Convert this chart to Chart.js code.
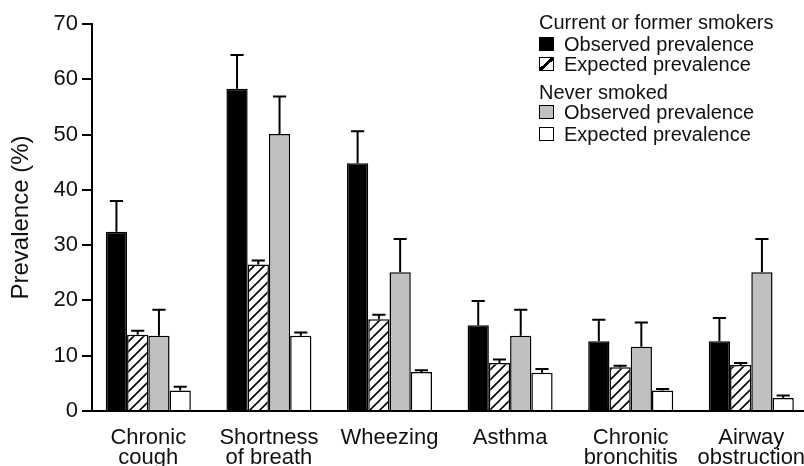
<!DOCTYPE html>
<html>
<head>
<meta charset="utf-8">
<script src="https://cdn.jsdelivr.net/npm/chart.js@4.4.1/dist/chart.umd.min.js"></script>
<style>
  html, body { margin: 0; padding: 0; background: #fff; overflow: hidden; }
  #wrap { position: relative; width: 804px; height: 466px; }
  canvas { position: absolute; left: 0; top: 0; }
  .lg { position: absolute; left: 539px; font-family: "Liberation Sans", Arial, sans-serif; font-size: 20px; line-height: 20px; color: #111; white-space: nowrap; }
  .lg .sw { position: absolute; left: 0; top: 3px; width: 15px; height: 14px; box-sizing: border-box; border: 1.5px solid #000; }
  .lg .tx { position: absolute; left: 25px; top: 0; }
</style>
</head>
<body>
<div id="wrap">
  <canvas id="c" width="804" height="466"></canvas>
  <div id="legend"></div>
</div>
<script>
// ---- data ----
const categories = [["Chronic", "cough"], ["Shortness", "of breath"], ["Wheezing"], ["Asthma"], ["Chronic", "bronchitis"], ["Airway", "obstruction"]];
const groupNames = ["Current or former smokers", "Never smoked"];
const seriesNames = ["Observed prevalence", "Expected prevalence"];
const yTicks = [0, 10, 20, 30, 40, 50, 60, 70];

const smokersObserved      = [32.4, 58.3, 44.8, 15.5, 12.6, 12.6];
const smokersObservedUpper = [38.0, 64.4, 50.6, 19.9, 16.5, 16.8];
const smokersExpected      = [13.8, 26.5, 16.6, 8.7, 7.9, 8.3];
const smokersExpectedUpper = [14.5, 27.2, 17.4, 9.3, 8.2, 8.7];
const neverObserved        = [13.6, 50.1, 25.1, 13.6, 11.6, 25.1];
const neverObservedUpper   = [18.3, 56.9, 31.1, 18.3, 16.0, 31.1];
const neverExpected        = [3.7, 13.6, 7.05, 6.9, 3.7, 2.35];
const neverExpectedUpper   = [4.4, 14.2, 7.35, 7.6, 4.0, 2.8];

// ---- styles ----
const FONT = "'Liberation Sans', Arial, sans-serif";
function hatchPattern() {
  const p = document.createElement('canvas');
  p.width = 10; p.height = 10;
  const g = p.getContext('2d');
  g.fillStyle = '#fff'; g.fillRect(0, 0, 10, 10);
  g.strokeStyle = '#000'; g.lineWidth = 1.6;
  g.beginPath();
  g.moveTo(-2, 12); g.lineTo(12, -2);
  g.moveTo(-2, 2); g.lineTo(2, -2);
  g.moveTo(8, 12); g.lineTo(12, 8);
  g.stroke();
  return g.createPattern(p, 'repeat');
}
const ctx = document.getElementById('c').getContext('2d');
const hatch = hatchPattern();

const seriesDefs = [
  { group: 0, name: 0, values: smokersObserved, upper: smokersObservedUpper, fill: '#000000', swatch: 'background:#000;' },
  { group: 0, name: 1, values: smokersExpected, upper: smokersExpectedUpper, fill: hatch, swatch: 'background:linear-gradient(to bottom right,#fff calc(50% - 1.6px),#000 calc(50% - 1.6px),#000 calc(50% + 1.6px),#fff calc(50% + 1.6px));' },
  { group: 1, name: 0, values: neverObserved, upper: neverObservedUpper, fill: '#c0c0c0', swatch: 'background:#c0c0c0;' },
  { group: 1, name: 1, values: neverExpected, upper: neverExpectedUpper, fill: '#ffffff', swatch: 'background:#fff;' }
];

const datasets = seriesDefs.map(s => ({
  label: groupNames[s.group] + ' – ' + seriesNames[s.name],
  data: s.values.map((v, i) => ({ x: i, y: v })),
  upper: s.upper,
  backgroundColor: s.fill,
  borderColor: '#000',
  borderWidth: 1.5,
  borderSkipped: 'bottom',
  categoryPercentage: 0.705,
  barPercentage: 1.0
}));

const errorBars = {
  id: 'errorBars',
  afterDatasetsDraw(chart) {
    const c = chart.ctx;
    const ys = chart.scales.y;
    c.save();
    c.strokeStyle = '#000';
    c.lineWidth = 2;
    chart.data.datasets.forEach((ds, di) => {
      const meta = chart.getDatasetMeta(di);
      meta.data.forEach((bar, i) => {
        const top = ys.getPixelForValue(ds.data[i].y);
        const up = ys.getPixelForValue(ds.upper[i]);
        const half = bar.width * 0.31;
        c.beginPath();
        c.moveTo(bar.x, top);
        c.lineTo(bar.x, up);
        c.moveTo(bar.x - half, up);
        c.lineTo(bar.x + half, up);
        c.stroke();
      });
    });
    c.restore();
  }
};

new Chart(ctx, {
  type: 'bar',
  data: { datasets },
  options: {
    responsive: false,
    animation: false,
    devicePixelRatio: 1,
    layout: { padding: { left: 0, top: 24, right: 0, bottom: 0 } },
    plugins: { legend: { display: false }, tooltip: { enabled: false } },
    scales: {
      x: {
        type: 'linear',
        offset: false,
        min: -0.467,
        max: 5.437,
        afterBuildTicks(scale) { scale.ticks = categories.map((_, i) => ({ value: i })); },
        afterFit(scale) { scale.height = 55; scale.paddingLeft = 0; scale.paddingRight = 0; },
        grid: { display: false, offset: false },
        border: { display: true, color: '#000', width: 2 },
        ticks: {
          autoSkip: false,
          maxRotation: 0,
          minRotation: 0,
          padding: 9,
          color: '#111',
          font: { family: FONT, size: 22, lineHeight: 0.92 },
          callback: (v) => categories[v] || ''
        }
      },
      y: {
        min: 0,
        max: 70,
        afterBuildTicks(scale) { scale.ticks = yTicks.map(v => ({ value: v })); },
        afterFit(scale) { scale.width = 92; },
        grid: { display: true, drawOnChartArea: false, drawTicks: true, tickLength: 10, color: '#000', lineWidth: 2 },
        border: { display: true, color: '#000', width: 2 },
        ticks: { padding: 4, color: '#111', font: { family: FONT, size: 22 } },
        title: { display: true, text: 'Prevalence (%)', color: '#111', font: { family: FONT, size: 24 }, padding: { top: 7, bottom: 0 } }
      }
    }
  },
  plugins: [errorBars]
});

// ---- legend (HTML) ----
const rowTops = [12.4, 34.1, 54.4, 82.1, 102.4, 124.1];
const legend = document.getElementById('legend');
let r = 0;
groupNames.forEach((g, gi) => {
  const h = document.createElement('div');
  h.className = 'lg'; h.style.top = rowTops[r++] + 'px';
  h.textContent = g;
  legend.appendChild(h);
  seriesDefs.filter(s => s.group === gi).forEach(s => {
    const row = document.createElement('div');
    row.className = 'lg'; row.style.top = rowTops[r++] + 'px';
    row.innerHTML = '<div class="sw" style="' + s.swatch + '"></div><div class="tx"></div>';
    row.querySelector('.tx').textContent = seriesNames[s.name];
    legend.appendChild(row);
  });
});
</script>
</body>
</html>
